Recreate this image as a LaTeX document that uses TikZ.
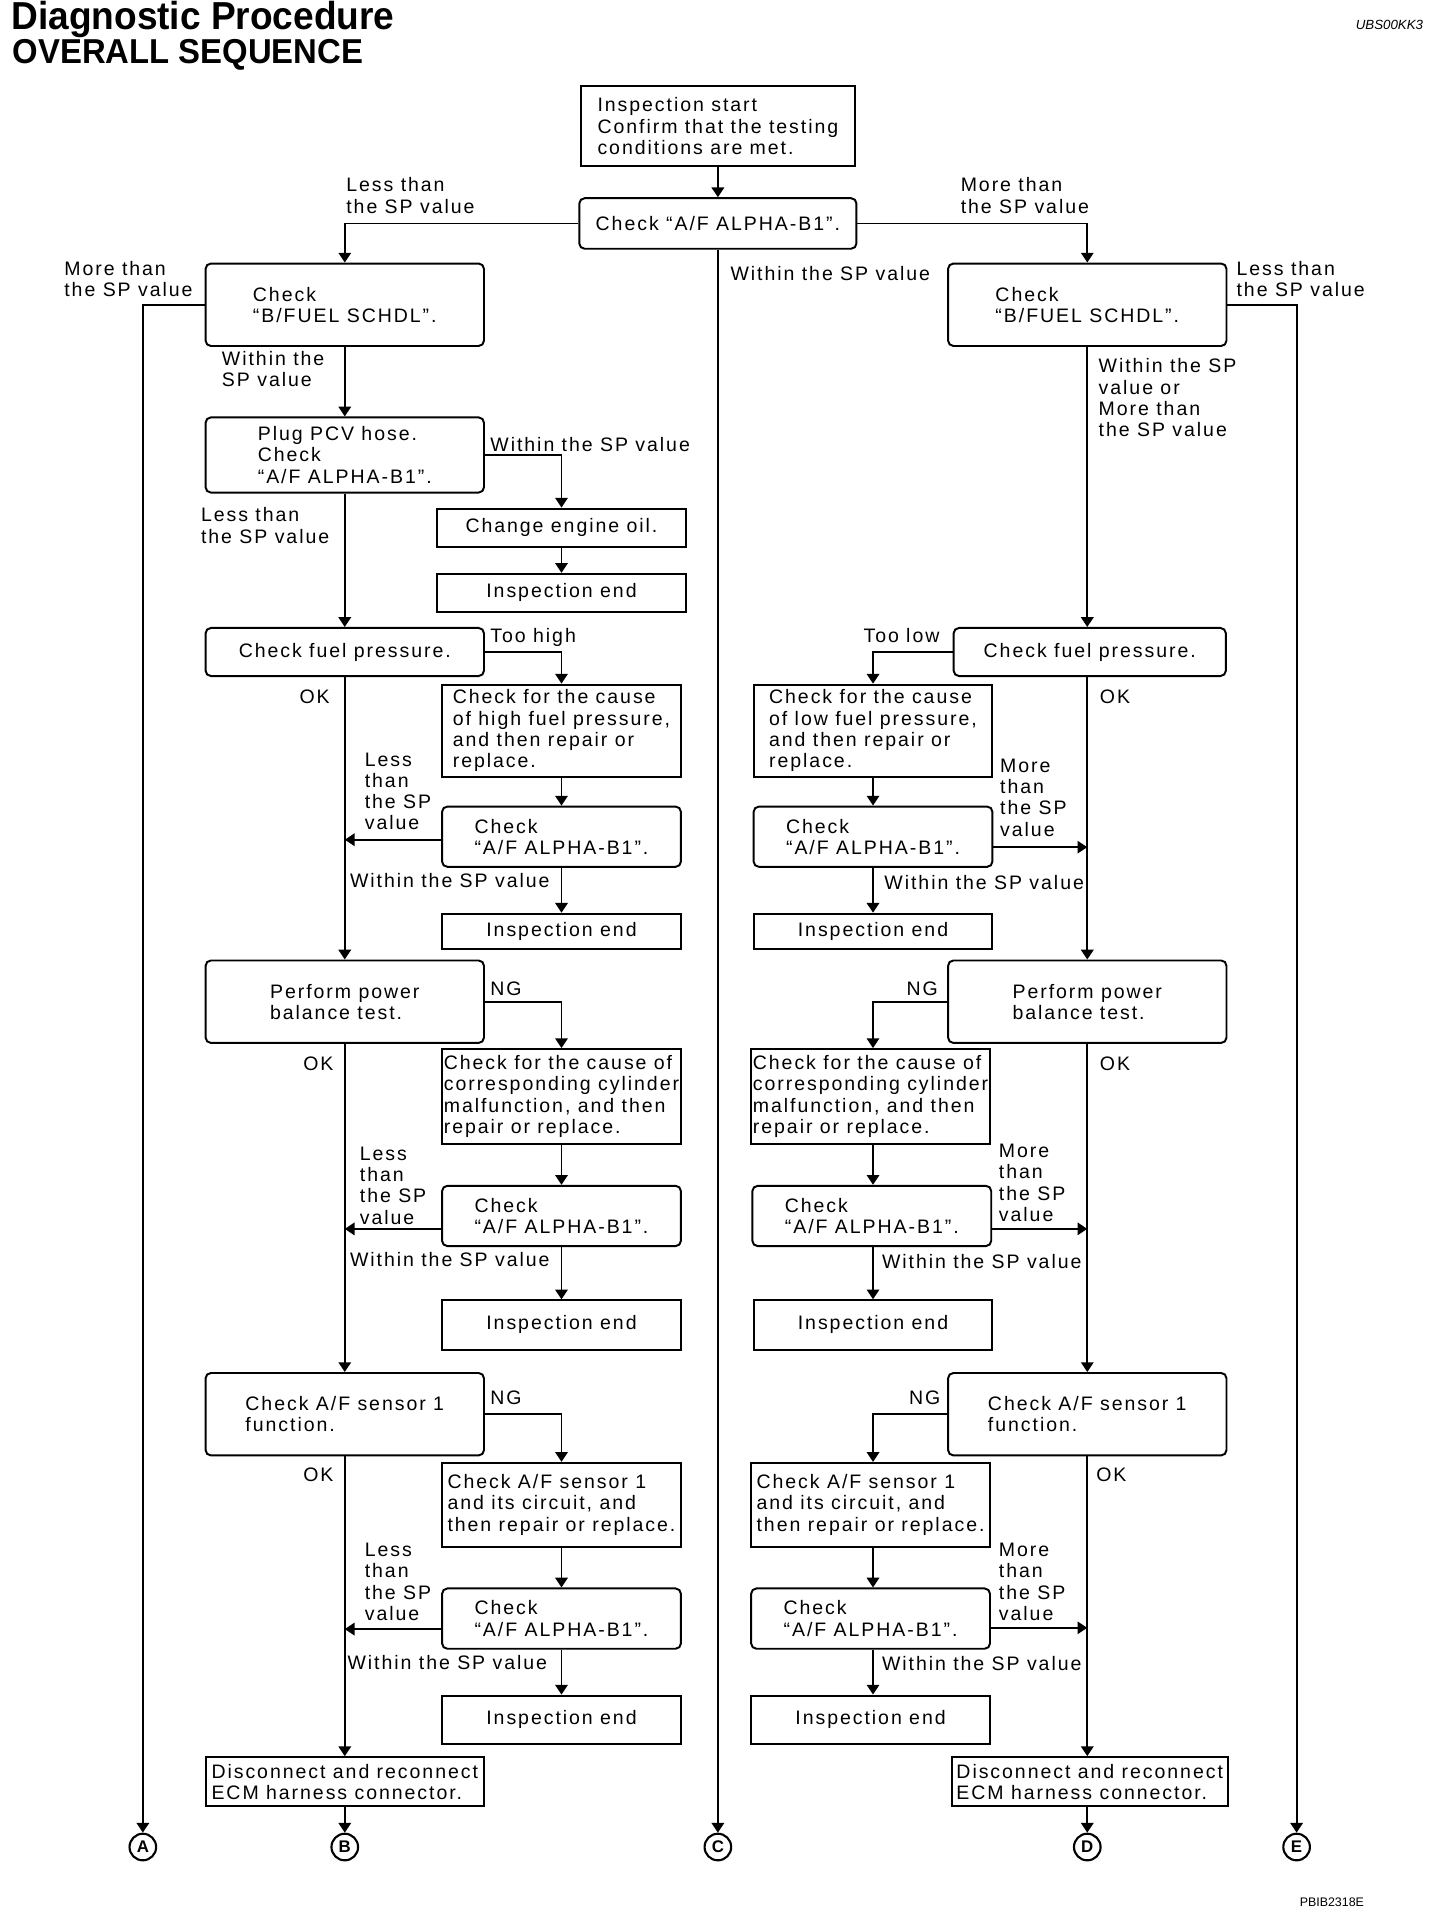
\documentclass[tikz,border=0pt]{standalone}
\usepackage{fontspec}
\setmainfont{Liberation Sans}
\newfontfamily\flowfont{Liberation Sans}[LetterSpace=10]
\newfontfamily\headfont{Liberation Sans}[FakeStretch=0.95]
\usetikzlibrary{arrows.meta}

\begin{document}
\begin{tikzpicture}[x=0.6944pt, y=-0.6944pt,
    every node/.style={inner sep=0pt, font=\flowfont\fontsize{11}{12}\selectfont},
    rbox/.style={draw, line width=1.1pt, rounded corners=3pt, align=left},
    sbox/.style={draw, line width=1.1pt, align=left},
    wmain/.style={minimum width=157pt},
    wsub/.style={minimum width=134.7pt},
    lbl/.style={anchor=north west, align=left},
    arr/.style={line width=1.1pt, -{Triangle[length=5.5pt,width=7pt]}},
    term/.style={circle, draw, line width=1.2pt, minimum size=15pt, font=\bfseries\fontsize{9.5}{10}\selectfont}]

\useasboundingbox (0,0) rectangle (1169.3,1567.4);

% heading
\node[anchor=north west, font=\headfont\bfseries\fontsize{22}{24}\selectfont] (ttl) at (9,1) {Diagnostic Procedure};
\node[anchor=north west, font=\headfont\bfseries\fontsize{19.5}{22}\selectfont] (sub) at (10,32) {OVERALL SEQUENCE};
\node[anchor=east, font=\itshape\fontsize{7.5}{8}\selectfont] (code) at (1156,20) {UBS00KK3};
\node[anchor=east, font=\fontsize{7}{8}\selectfont] (fig) at (1108,1545) {PBIB2318E};

% top
\node[sbox, minimum width=154.9pt, minimum height=45.1pt] (start) at (583,102.5) {Inspection start\\Confirm that the testing\\conditions are met.};
\node[rbox, minimum width=156.3pt, minimum height=28.5pt] (afchk) at (583,181.5) {Check “A/F ALPHA-B1”.};

% left main column
\node[rbox, wmain, minimum height=46.5pt] (bfl) at (280,247.5) {Check\\“B/FUEL SCHDL”.};
\node[rbox, wmain, minimum height=42.4pt] (pcv) at (280,369.5) {Plug PCV hose.\\Check\\“A/F ALPHA-B1”.};
\node[rbox, wmain, minimum height=27.1pt] (fpl) at (280,529.5) {Check fuel pressure.};
\node[rbox, wmain, minimum height=46.5pt] (pbl) at (280,813.5) {Perform power\\balance test.};
\node[rbox, wmain, minimum height=46.5pt] (afl) at (280,1148.5) {Check A/F sensor 1\\function.};
\node[sbox, wmain, minimum height=27.8pt] (discl) at (280,1447) {Disconnect and reconnect\\ECM harness connector.};

% left side column
\node[sbox, minimum width=140.3pt, minimum height=21.5pt] (oil) at (456,428.5) {Change engine oil.};
\node[sbox, minimum width=140.3pt, minimum height=21.5pt] (end0) at (456,481.5) {Inspection end};
\node[sbox, wsub, minimum height=52.1pt] (hi) at (456,593.5) {Check for the cause\\of high fuel pressure,\\and then repair or\\replace.};
\node[rbox, wsub, minimum height=34pt] (chk1l) at (456,679.5) {Check\\“A/F ALPHA-B1”.};
\node[sbox, wsub, minimum height=20.1pt] (end1l) at (456,756.5) {Inspection end};
\node[sbox, wsub, minimum height=53.5pt] (cyll) at (456,890.5) {Check for the cause of\\corresponding cylinder\\malfunction, and then\\repair or replace.};
\node[rbox, wsub, minimum height=34pt] (chk2l) at (456,987.5) {Check\\“A/F ALPHA-B1”.};
\node[sbox, wsub, minimum height=27.8pt] (end2l) at (456,1076) {Inspection end};
\node[sbox, wsub, minimum height=47.2pt] (senl) at (456,1222) {Check A/F sensor 1\\and its circuit, and\\then repair or replace.};
\node[rbox, wsub, minimum height=34pt] (chk3l) at (456,1314.5) {Check\\“A/F ALPHA-B1”.};
\node[sbox, wsub, minimum height=27.1pt] (end3l) at (456,1396.5) {Inspection end};

% right main column
\node[rbox, wmain, minimum height=46.5pt] (bfr) at (883,247.5) {Check\\“B/FUEL SCHDL”.};
\node[rbox, minimum width=153.5pt, minimum height=27.1pt] (fpr) at (885,529.5) {Check fuel pressure.};
\node[rbox, wmain, minimum height=46.5pt] (pbr) at (883,813.5) {Perform power\\balance test.};
\node[rbox, wmain, minimum height=46.5pt] (afr) at (883,1148.5) {Check A/F sensor 1\\function.};
\node[sbox, minimum width=155.6pt, minimum height=27.8pt] (discr) at (885,1447) {Disconnect and reconnect\\ECM harness connector.};

% right side column
\node[sbox, wsub, minimum height=52.1pt] (lo) at (709,593.5) {Check for the cause\\of low fuel pressure,\\and then repair or\\replace.};
\node[rbox, wsub, minimum height=34pt] (chk1r) at (709,679.5) {Check\\“A/F ALPHA-B1”.};
\node[sbox, wsub, minimum height=20.1pt] (end1r) at (709,756.5) {Inspection end};
\node[sbox, wsub, minimum height=53.5pt] (cylr) at (707,890.5) {Check for the cause of\\corresponding cylinder\\malfunction, and then\\repair or replace.};
\node[rbox, wsub, minimum height=34pt] (chk2r) at (708,987.5) {Check\\“A/F ALPHA-B1”.};
\node[sbox, wsub, minimum height=27.8pt] (end2r) at (709,1076) {Inspection end};
\node[sbox, wsub, minimum height=47.2pt] (senr) at (707,1222) {Check A/F sensor 1\\and its circuit, and\\then repair or replace.};
\node[rbox, wsub, minimum height=34pt] (chk3r) at (707,1314.5) {Check\\“A/F ALPHA-B1”.};
\node[sbox, wsub, minimum height=27.1pt] (end3r) at (707,1396.5) {Inspection end};

% connectors to next page
\node[term] (ptA) at (116,1500) {A};
\node[term] (ptB) at (280,1500) {B};
\node[term] (ptC) at (583,1500) {C};
\node[term] (ptD) at (883,1500) {D};
\node[term] (ptE) at (1053,1500) {E};

% exits of the re-checks (a bit below the middle)
\coordinate (j1l) at ([yshift=-1.7pt]chk1l.west);
\coordinate (j2l) at ([yshift=-7.3pt]chk2l.west);
\coordinate (j3l) at ([yshift=-5.9pt]chk3l.west);
\coordinate (j1r) at ([yshift=-5.9pt]chk1r.east);
\coordinate (j2r) at ([yshift=-7.3pt]chk2r.east);
\coordinate (j3r) at ([yshift=-5.2pt]chk3r.east);

% top flow
\draw[arr] (start) -- (afchk);
\draw[arr] (afchk.west) -| (bfl);
\draw[arr] (afchk.east) -| (bfr);
\draw[arr] (afchk) -- (ptC);
\draw[arr] (bfl.west) -| (ptA);
\draw[arr] (bfr.east) -| (ptE);
\node[lbl] (l1) at (281,144) {Less than\\the SP value};
\node[lbl] (l2) at (780,144) {More than\\the SP value};
\node[lbl] (l3) at (593,216) {Within the SP value};
\node[lbl] (l4) at (52,212) {More than\\the SP value};
\node[lbl] (r1) at (1004,212) {Less than\\the SP value};

% left flow
\draw[arr] (bfl) -- (pcv);
\draw[arr] (pcv.east) -| (oil);
\draw[arr] (oil) -- (end0);
\draw[arr] (pcv) -- (fpl);
\draw[arr] (fpl.east) -| (hi);
\draw[arr] (hi) -- (chk1l);
\draw[arr] (j1l) -- (j1l -| fpl);
\draw[arr] (chk1l) -- (end1l);
\draw[arr] (fpl) -- (pbl);
\draw[arr] (pbl.east) -| (cyll);
\draw[arr] (cyll) -- (chk2l);
\draw[arr] (j2l) -- (j2l -| pbl);
\draw[arr] (chk2l) -- (end2l);
\draw[arr] (pbl) -- (afl);
\draw[arr] (afl.east) -| (senl);
\draw[arr] (senl) -- (chk3l);
\draw[arr] (j3l) -- (j3l -| afl);
\draw[arr] (chk3l) -- (end3l);
\draw[arr] (afl) -- (discl);
\draw[arr] (discl) -- (ptB);
\node[lbl] (l5) at (180,285) {Within the\\SP value};
\node[lbl] (l6) at (398,355) {Within the SP value};
\node[lbl] (l7) at (163,412) {Less than\\the SP value};
\node[lbl] (l8) at (398,510) {Too high};
\node[lbl] (l9) at (243,560) {OK};
\node[lbl] (l10) at (296,611) {Less\\than\\the SP\\value};
\node[lbl] (l11) at (284,709) {Within the SP value};
\node[lbl] (l12) at (398,797) {NG};
\node[lbl] (l13) at (246,858) {OK};
\node[lbl] (l14) at (292,931) {Less\\than\\the SP\\value};
\node[lbl] (l15) at (284,1017) {Within the SP value};
\node[lbl] (l16) at (398,1129) {NG};
\node[lbl] (l17) at (246,1192) {OK};
\node[lbl] (l18) at (296,1253) {Less\\than\\the SP\\value};
\node[lbl] (l19) at (282,1344) {Within the SP value};

% right flow
\draw[arr] (bfr) -- (bfr |- fpr.north);
\draw[arr] (fpr.west) -| (lo);
\draw[arr] (lo) -- (chk1r);
\draw[arr] (j1r) -- (j1r -| bfr);
\draw[arr] (chk1r) -- (end1r);
\draw[arr] (fpr.south -| bfr) -- (pbr);
\draw[arr] (pbr.west) -| (lo |- cylr.north);
\draw[arr] (cylr.south -| lo) -- (chk2r.north -| lo);
\draw[arr] (j2r) -- (j2r -| pbr);
\draw[arr] (chk2r.south -| lo) -- (end2r);
\draw[arr] (pbr) -- (afr);
\draw[arr] (afr.west) -| (lo |- senr.north);
\draw[arr] (senr.south -| lo) -- (chk3r.north -| lo);
\draw[arr] (j3r) -- (j3r -| afr);
\draw[arr] (chk3r.south -| lo) -- (end3r.north -| lo);
\draw[arr] (afr) -- (afr |- discr.north);
\draw[arr] (discr.south -| afr) -- (ptD);
\node[lbl] (r2) at (892,291) {Within the SP\\value or\\More than\\the SP value};
\node[lbl] (r3) at (701,510) {Too low};
\node[lbl] (r4) at (893,560) {OK};
\node[lbl] (r5) at (812,616) {More\\than\\the SP\\value};
\node[lbl] (r6) at (718,711) {Within the SP value};
\node[lbl] (r7) at (736,797) {NG};
\node[lbl] (r8) at (893,858) {OK};
\node[lbl] (r9) at (811,929) {More\\than\\the SP\\value};
\node[lbl] (r10) at (716,1018) {Within the SP value};
\node[lbl] (r11) at (738,1129) {NG};
\node[lbl] (r12) at (890,1192) {OK};
\node[lbl] (r13) at (811,1253) {More\\than\\the SP\\value};
\node[lbl] (r14) at (716,1345) {Within the SP value};

\end{tikzpicture}
\end{document}
